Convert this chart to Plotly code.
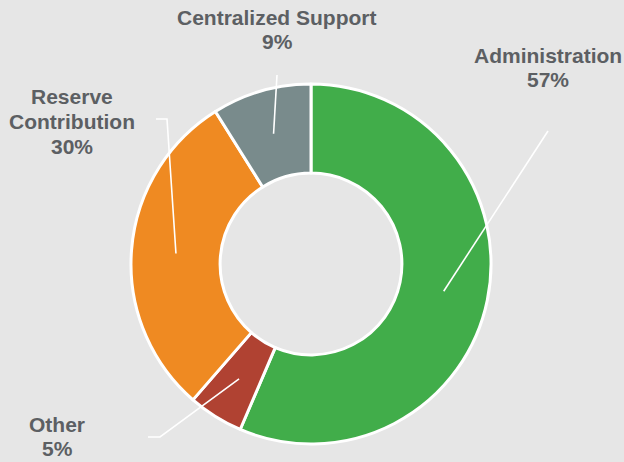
import math
import plotly.graph_objects as go

# ---- data ----
categories = ["Administration", "Other", "Reserve Contribution", "Centralized Support"]
values = [57, 5, 30, 9]
colors = ["#41ad4a", "#b04232", "#ef8a22", "#798b8c"]
# label lines (text split as in the original)
label_lines = [
    ["Administration", "57%"],
    ["Other", "5%"],
    ["Reserve", "Contribution", "30%"],
    ["Centralized Support", "9%"],
]

# ---- layout constants (pixels in a 624x462 canvas) ----
W, H = 624, 462
CX, CY, R = 311, 264, 180
HOLE = 0.505
FONT = dict(family="Liberation Sans, Arial, sans-serif", size=21, color="#5c5f63")
LINE_GAP = 24.5
# first-line centre of each label block
label_pos = [(548, 55), (57, 424), (72, 97), (277, 17)]
# leader-line waypoints after the slice start point
leader_pts = [
    [(548, 131)],
    [(160, 437), (148, 437)],
    [(167, 119), (156, 119)],
    [(277, 75)],
]


def px(x):
    return x / W


def py(y):
    return 1 - y / H


fig = go.Figure(
    go.Pie(
        labels=categories,
        values=values,
        hole=HOLE,
        sort=False,
        direction="clockwise",
        rotation=0,
        marker=dict(colors=colors, line=dict(color="white", width=3)),
        textinfo="none",
        hoverinfo="label+percent",
        showlegend=False,
        domain=dict(x=[px(CX - R), px(CX + R)], y=[py(CY + R), py(CY - R)]),
    )
)

annotations = []
shapes = []
total = sum(values)
cum = 0
mid_r = R * (1 + HOLE) / 2
for i, v in enumerate(values):
    mid = (cum + v / 2) / total * 2 * math.pi
    cum += v
    sx = CX + mid_r * math.sin(mid)
    sy = CY - mid_r * math.cos(mid)
    pts = [(sx, sy)] + leader_pts[i]
    path = "M " + " L ".join(f"{px(a):.5f},{py(b):.5f}" for a, b in pts)
    shapes.append(
        dict(type="path", path=path, xref="paper", yref="paper",
             line=dict(color="white", width=1.6))
    )
    lx, ly = label_pos[i]
    for j, t in enumerate(label_lines[i]):
        annotations.append(
            dict(text=f"<b>{t}</b>", x=px(lx), y=py(ly + j * LINE_GAP),
                 xref="paper", yref="paper", xanchor="center", yanchor="middle",
                 showarrow=False, font=FONT)
        )

fig.update_layout(
    width=W,
    height=H,
    margin=dict(l=0, r=0, t=0, b=0),
    paper_bgcolor="#e6e6e6",
    plot_bgcolor="#e6e6e6",
    annotations=annotations,
    shapes=shapes,
)

fig.write_html(
    "out.html",
    config={"displayModeBar": False},
    post_script="document.body.style.margin='0';document.body.style.overflow='hidden';",
)
